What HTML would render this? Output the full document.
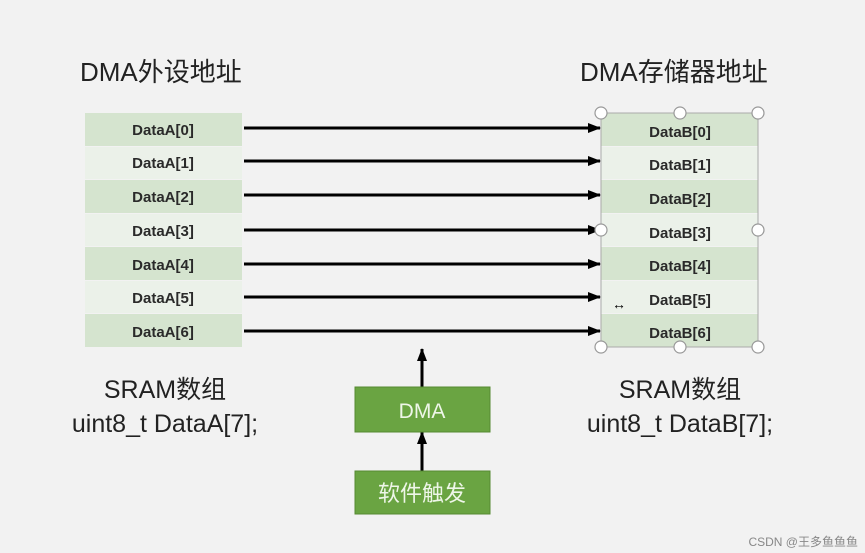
<!DOCTYPE html>
<html><head><meta charset="utf-8"><style>
body{margin:0;width:865px;height:553px;background:#f2f2f2;overflow:hidden;position:relative;font-family:"Liberation Sans","Noto Sans CJK SC",sans-serif;}
</style></head><body>
<svg width="865" height="553" style="position:absolute;left:0;top:0" font-family="Liberation Sans, Noto Sans CJK SC, sans-serif">
<defs><marker id="a" markerWidth="13" markerHeight="10" refX="12" refY="5" orient="auto" markerUnits="userSpaceOnUse"><path d="M0,0 L13,5 L0,10 Z" fill="#000"/></marker></defs>
<g font-size="15" font-weight="bold" fill="#2a2a2a" text-anchor="middle">
<rect x="85" y="113" width="157" height="33" fill="#d5e4cf"/>
<rect x="85" y="147" width="157" height="32" fill="#ebf1e9"/>
<rect x="85" y="180" width="157" height="33" fill="#d5e4cf"/>
<rect x="85" y="214" width="157" height="32" fill="#ebf1e9"/>
<rect x="85" y="247" width="157" height="33" fill="#d5e4cf"/>
<rect x="85" y="281" width="157" height="32" fill="#ebf1e9"/>
<rect x="85" y="314" width="157" height="33" fill="#d5e4cf"/>
<text x="163" y="135">DataA[0]</text><text x="163" y="168">DataA[1]</text><text x="163" y="202">DataA[2]</text><text x="163" y="236">DataA[3]</text><text x="163" y="270">DataA[4]</text><text x="163" y="303">DataA[5]</text><text x="163" y="337">DataA[6]</text>
<rect x="601" y="113" width="157" height="33" fill="#d5e4cf"/>
<rect x="601" y="147" width="157" height="32" fill="#ebf1e9"/>
<rect x="601" y="180" width="157" height="33" fill="#d5e4cf"/>
<rect x="601" y="214" width="157" height="32" fill="#ebf1e9"/>
<rect x="601" y="247" width="157" height="33" fill="#d5e4cf"/>
<rect x="601" y="281" width="157" height="32" fill="#ebf1e9"/>
<rect x="601" y="314" width="157" height="33" fill="#d5e4cf"/>
<rect x="601" y="113" width="157" height="234" fill="none" stroke="#aaa"/>
<text x="680" y="137">DataB[0]</text><text x="680" y="170">DataB[1]</text><text x="680" y="204">DataB[2]</text><text x="680" y="238">DataB[3]</text><text x="680" y="271">DataB[4]</text><text x="680" y="305">DataB[5]</text><text x="680" y="338">DataB[6]</text>
</g>
<g stroke="#000" stroke-width="3" marker-end="url(#a)">
<line x1="244" y1="128" x2="600" y2="128"/><line x1="244" y1="161" x2="600" y2="161"/><line x1="244" y1="195" x2="600" y2="195"/><line x1="244" y1="230" x2="600" y2="230"/><line x1="244" y1="264" x2="600" y2="264"/><line x1="244" y1="297" x2="600" y2="297"/><line x1="244" y1="331" x2="600" y2="331"/>
<line x1="422" y1="387" x2="422" y2="349"/><line x1="422" y1="471" x2="422" y2="432"/>
</g>
<g fill="#fff" stroke="#999" stroke-width="1.2">
<circle cx="601" cy="113" r="6"/><circle cx="680" cy="113" r="6"/><circle cx="758" cy="113" r="6"/>
<circle cx="601" cy="230" r="6"/><circle cx="758" cy="230" r="6"/>
<circle cx="601" cy="347" r="6"/><circle cx="680" cy="347" r="6"/><circle cx="758" cy="347" r="6"/>
</g>
<text x="612" y="309" font-size="14" fill="#000">↔</text>
<rect x="355" y="387" width="135" height="45" fill="#6aa442" stroke="#558a33"/>
<rect x="355" y="471" width="135" height="43" fill="#6aa442" stroke="#558a33"/>
<text x="422" y="418" font-size="21" fill="#eef6e8" text-anchor="middle">DMA</text>
<text x="422" y="501" font-size="22" fill="#eef6e8" text-anchor="middle">软件触发</text>
<g font-size="26" fill="#222">
<text x="80" y="81">DMA外设地址</text>
<text x="580" y="81">DMA存储器地址</text>
</g>
<g font-size="25" fill="#222" text-anchor="middle">
<text x="165" y="398">SRAM数组</text><text x="165" y="432">uint8_t DataA[7];</text>
<text x="680" y="398">SRAM数组</text><text x="680" y="432">uint8_t DataB[7];</text>
</g>
<text x="858" y="546" font-size="12" fill="#888" text-anchor="end">CSDN @王多鱼鱼鱼</text>
</svg>
</body></html>
